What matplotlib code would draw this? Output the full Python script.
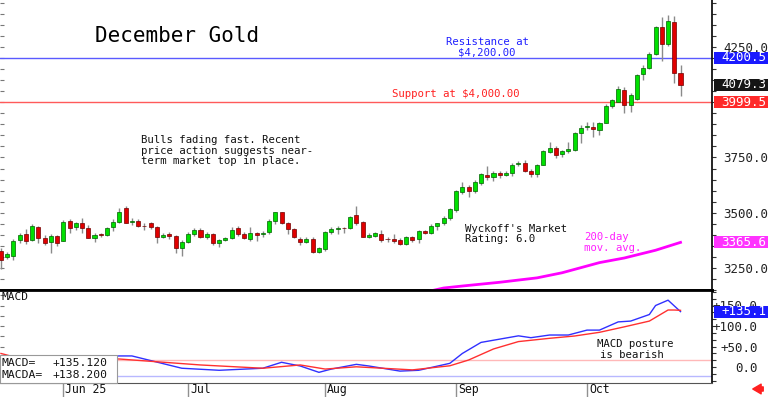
import matplotlib
matplotlib.use('Agg')
import matplotlib.pyplot as plt
from matplotlib.patches import Rectangle
from matplotlib.ticker import MultipleLocator, FuncFormatter

plt.rcParams['font.family'] = 'DejaVu Sans Mono'

# daily candles, mid May .. Oct 22
opens = [3328, 3299, 3304, 3376, 3404, 3376, 3437, 3384, 3369, 3396,
         3374, 3464, 3437, 3452, 3429, 3384, 3403, 3399, 3434, 3460,
         3520, 3458, 3464, 3441, 3455, 3437, 3392, 3402, 3396, 3339,
         3369, 3402, 3422, 3389, 3404, 3364, 3376, 3384, 3432, 3404,
         3381, 3410, 3402, 3411, 3464, 3502, 3452, 3425, 3380, 3367,
         3380, 3324, 3336, 3411, 3426, 3431, 3429, 3490, 3457, 3392,
         3396, 3404, 3381, 3381, 3376, 3357, 3389, 3380, 3417, 3410,
         3442, 3452, 3475, 3512, 3595, 3615, 3598, 3633, 3669, 3660,
         3680, 3670, 3680, 3719, 3727, 3691, 3675, 3716, 3776, 3791,
         3764, 3779, 3784, 3859, 3887, 3889, 3874, 3908, 3981, 4003,
         4055, 3987, 4013, 4128, 4153, 4218, 4342, 4264, 4365, 4131]
highs = [3340, 3322, 3380, 3410, 3425, 3449, 3440, 3400, 3404, 3400,
         3465, 3470, 3460, 3478, 3445, 3410, 3410, 3434, 3470, 3520,
         3530, 3475, 3470, 3455, 3460, 3440, 3410, 3413, 3400, 3376,
         3413, 3429, 3429, 3413, 3410, 3380, 3389, 3437, 3442, 3413,
         3436, 3412, 3416, 3470, 3505, 3505, 3456, 3429, 3392, 3389,
         3392, 3345, 3418, 3437, 3442, 3437, 3485, 3530, 3464, 3410,
         3414, 3422, 3392, 3404, 3384, 3395, 3395, 3422, 3422, 3449,
         3455, 3485, 3522, 3605, 3640, 3625, 3648, 3680, 3711, 3688,
         3691, 3691, 3724, 3735, 3737, 3697, 3721, 3782, 3821, 3800,
         3786, 3818, 3864, 3895, 3910, 3910, 3912, 3992, 4017, 4072,
         4069, 4040, 4130, 4168, 4228, 4346, 4387, 4395, 4392, 4168]
lows = [3245, 3290, 3286, 3362, 3359, 3372, 3362, 3352, 3319, 3348,
        3372, 3408, 3422, 3410, 3384, 3369, 3392, 3395, 3418, 3455,
        3455, 3445, 3434, 3422, 3425, 3364, 3384, 3380, 3319, 3304,
        3362, 3395, 3384, 3380, 3354, 3345, 3372, 3380, 3395, 3380,
        3370, 3370, 3392, 3404, 3449, 3449, 3404, 3384, 3355, 3362,
        3316, 3319, 3327, 3404, 3404, 3407, 3425, 3445, 3389, 3384,
        3390, 3369, 3369, 3364, 3354, 3354, 3369, 3362, 3405, 3405,
        3422, 3445, 3468, 3505, 3585, 3573, 3590, 3625, 3650, 3645,
        3655, 3668, 3665, 3712, 3686, 3660, 3660, 3714, 3770, 3746,
        3750, 3770, 3781, 3817, 3876, 3843, 3850, 3904, 3972, 3999,
        3953, 3957, 4010, 4100, 4150, 4214, 4188, 4253, 4088, 4030]
closes = [3286, 3313, 3374, 3399, 3374, 3440, 3384, 3364, 3395, 3364,
          3460, 3432, 3452, 3429, 3384, 3399, 3401, 3429, 3460, 3505,
          3455, 3461, 3440, 3439, 3437, 3392, 3401, 3395, 3339, 3369,
          3404, 3422, 3392, 3404, 3362, 3376, 3384, 3422, 3404, 3384,
          3410, 3399, 3410, 3464, 3501, 3452, 3426, 3392, 3369, 3380,
          3324, 3339, 3414, 3426, 3432, 3429, 3479, 3455, 3392, 3399,
          3407, 3376, 3379, 3372, 3357, 3389, 3376, 3417, 3407, 3442,
          3452, 3478, 3517, 3598, 3615, 3598, 3640, 3674, 3660, 3680,
          3670, 3680, 3716, 3727, 3691, 3675, 3716, 3779, 3791, 3761,
          3779, 3788, 3859, 3885, 3892, 3878, 3908, 3983, 4008, 4058,
          3987, 4033, 4123, 4153, 4218, 4342, 4264, 4369, 4134, 4079.3]

# 200-day moving average (read at a few points)
ma_idx = [68, 71, 74, 80, 86, 90, 96, 100, 105, 109]
ma_val = [3140, 3159, 3168, 3185, 3205, 3228, 3274, 3295, 3330, 3365.6]

# MACD (blue) and MACDA signal (red)
macd_idx = [0, 19, 21, 29, 35, 42, 45, 48, 51, 53, 57, 59, 64, 67, 72, 74,
            77, 80, 83, 85, 88, 91, 94, 96, 99, 101, 104, 105, 107, 109]
macd_val = [20, 27, 27, -3, -8, -3, 11.5, 2.5, -13, -5, 6.5, 2.5, -10, -8, 9, 33,
            60, 68, 76, 71.5, 78, 78, 90, 90, 110, 112, 128, 150, 163, 135.1]
sig_idx = [0, 2, 19, 32, 42, 48, 52, 57, 66, 72, 75, 79, 83, 88, 92, 96,
           100, 104, 107, 108, 109]
sig_val = [33, 25, 19.5, 5, -3, 5, -5, 0.5, -7, 3, 17, 44, 62, 70, 75.6, 84.6,
           98, 112, 139, 139, 138.2]

month_idx = [10, 30, 52, 73, 94]
month_lbl = ['Jun 25', 'Jul', 'Aug', 'Sep', 'Oct']

W, H = 768, 397
fig = plt.figure(figsize=(W / 100, H / 100), dpi=100)
ax = fig.add_axes([0, 107 / H, 712 / W, 290 / H])
ax2 = fig.add_axes([0, 14 / H, 712 / W, 93 / H])

xlim = (-0.16, 114.05)
GREEN, RED = '#00e000', '#e00000'

# --- price panel ---
x = list(range(len(opens)))
ax.vlines(x, lows, highs, color='#8a8a8a', lw=1, zorder=2)
bottoms = [min(o, c) for o, c in zip(opens, closes)]
heights = [max(abs(c - o), 3) for o, c in zip(opens, closes)]
fills = [GREEN if c > o else RED for o, c in zip(opens, closes)]
edges = ['#006000' if c > o else '#700000' for o, c in zip(opens, closes)]
ax.bar(x, heights, 0.65, bottoms, color=fills, edgecolor=edges, linewidth=0.5, zorder=3)

ax.axhline(4200.5, color='#5a5aff', lw=1, zorder=1)
ax.axhline(3999.5, color='#ff5a5a', lw=1, zorder=1)
ax.plot(ma_idx, ma_val, color='#ff00ff', lw=2, zorder=4)

ax.set_xlim(*xlim)
ax.set_ylim(3150, 4463)
ax.set_xticks([])
ax.yaxis.tick_right()
ax.yaxis.set_major_locator(MultipleLocator(250))
ax.yaxis.set_minor_locator(MultipleLocator(50))
# 4000.0 sits under the support readout, so leave it blank
ax.yaxis.set_major_formatter(FuncFormatter(lambda v, p: '' if v == 4000 else '%.1f' % v))
ax.tick_params(axis='y', which='both', direction='out', length=3, width=0.8,
               color='#333333', labelsize=9, labelcolor='#222222', pad=5)
for s in ['top', 'left']:
    ax.spines[s].set_visible(False)
ax.spines['right'].set_linewidth(1.2)
ax.spines['bottom'].set_linewidth(2)

# --- MACD panel ---
ax2.plot(macd_idx, macd_val, color='#3030ff', lw=1, zorder=3)
ax2.plot(sig_idx, sig_val, color='#ff3030', lw=1, zorder=3)
ax2.axhline(17, color='#ffb8b8', lw=1, zorder=1)
ax2.axhline(-21, color='#b8b8ff', lw=1, zorder=1)
ax2.set_xlim(*xlim)
ax2.set_ylim(-39, 187.8)
ax2.yaxis.tick_right()
ax2.yaxis.set_major_locator(MultipleLocator(50))
ax2.yaxis.set_minor_locator(MultipleLocator(50 / 3))
ax2.yaxis.set_major_formatter(FuncFormatter(lambda v, p: '0.0' if v == 0 else '%+.1f' % v))
ax2.tick_params(axis='y', which='both', direction='out', length=3, width=0.8,
                color='#333333', labelsize=9, labelcolor='#222222', pad=30)
for lab in ax2.get_yticklabels():
    lab.set_ha('right')
ax2.set_xticks(month_idx)
ax2.set_xticklabels([])
ax2.tick_params(axis='x', direction='out', length=10, width=1, color='#909090')
ax2.spines['left'].set_visible(False)
ax2.spines['top'].set_linewidth(2)
ax2.spines['right'].set_linewidth(1.2)
ax2.spines['bottom'].set_color('#555555')

# small inward ticks along the left edge of both panels
for a, step in [(ax, 50), (ax2, 25)]:
    sec = a.secondary_yaxis('left')
    sec.yaxis.set_major_locator(MultipleLocator(step))
    sec.tick_params(direction='in', length=3, width=0.8, color='#777777', labelleft=False)
    sec.spines['left'].set_visible(False)


def ftext(px, py, s, **kw):
    fig.text(px / W, 1 - py / H, s, va='center', ha='left', **kw)


for i, lbl in zip(month_idx, month_lbl):
    px = ax2.transData.transform((i, 0))[0]
    ftext(px + 2, 389.5, lbl, fontsize=8.3, color='#111111')

ftext(95, 36, 'December Gold', fontsize=15, color='black')
ftext(446, 42, 'Resistance at', fontsize=7.7, color='#2020ff')
ftext(458, 52.5, '$4,200.00', fontsize=7.7, color='#2020ff')
ftext(392, 94, 'Support at $4,000.00', fontsize=7.7, color='#ff2020')
ftext(141, 140, 'Bulls fading fast. Recent', fontsize=7.7, color='#111111')
ftext(141, 150.5, 'price action suggests near-', fontsize=7.7, color='#111111')
ftext(141, 161, 'term market top in place.', fontsize=7.7, color='#111111')
ftext(465, 229, "Wyckoff's Market", fontsize=7.7, color='#111111')
ftext(465, 239.5, 'Rating: 6.0', fontsize=7.7, color='#111111')
ftext(584, 237.5, '200-day', fontsize=7.7, color='#ff20ff')
ftext(584, 248, 'mov. avg.', fontsize=7.7, color='#ff20ff')
ftext(597, 344, 'MACD posture', fontsize=7.7, color='#111111')
ftext(600, 354.5, 'is bearish', fontsize=7.7, color='#111111')
ftext(2, 297, 'MACD', fontsize=8, color='#111111')

# MACD readout box
fig.patches.append(Rectangle((0, 14 / H), 117 / W, (383 - 355) / H, transform=fig.transFigure,
                             facecolor='white', edgecolor='#999999', lw=0.8, zorder=5))
ftext(1, 363, 'MACD=', fontsize=8.2, color='#111111', zorder=6)
ftext(52, 363, '+135.120', fontsize=8.2, color='#111111', zorder=6)
ftext(1, 375.5, 'MACDA=', fontsize=8.2, color='#111111', zorder=6)
ftext(52, 375.5, '+138.200', fontsize=8.2, color='#111111', zorder=6)


# value boxes on the right scale
def value_box(axis, val, s, bg):
    py = axis.transData.transform((0, val))[1]
    fig.patches.append(Rectangle((714 / W, (py - 6) / H), 54 / W, 12 / H,
                                 transform=fig.transFigure, facecolor=bg,
                                 edgecolor='none', zorder=5))
    fig.text(766 / W, py / H, s, ha='right', va='center', fontsize=9,
             color='white', zorder=6)


value_box(ax, 4200.5, '4200.5', '#1a1aff')
value_box(ax, 4079.3, '4079.3', '#151515')
value_box(ax, 3999.5, '3999.5', '#ff2a2a')
value_box(ax, 3365.6, '3365.6', '#ff33ff')
value_box(ax2, 135.1, '+135.1', '#1a1aff')

ax2.annotate('', xy=(750, 8), xytext=(766, 8), xycoords='figure pixels',
             textcoords='figure pixels',
             arrowprops=dict(arrowstyle='simple,head_width=0.7,head_length=0.6,tail_width=0.3',
                             color='#ff2020'))

fig.savefig('out.png', dpi=100)
